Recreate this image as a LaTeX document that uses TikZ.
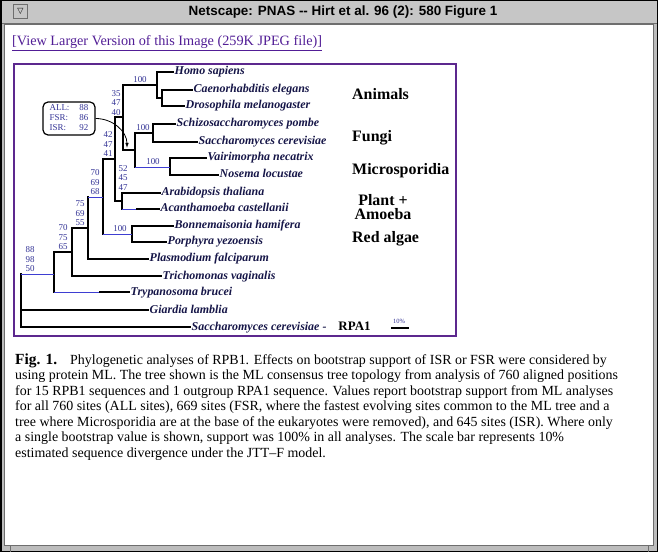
\documentclass[tikz,border=0pt]{standalone}
\usepackage{fontspec}
\setmainfont{Liberation Serif}
\newfontfamily\titlefont{Liberation Sans}
\newfontfamily\symfont{DejaVu Sans}
\usetikzlibrary{arrows.meta}
\definecolor{winframe}{RGB}{188,188,188}
\definecolor{winbar}{RGB}{198,198,198}
\definecolor{winshade}{RGB}{110,110,110}
\definecolor{linkcol}{RGB}{82,30,150}
\definecolor{figframe}{RGB}{92,40,142}
\definecolor{bscol}{RGB}{52,52,150}
\definecolor{spcol}{RGB}{22,22,72}
\definecolor{thinbr}{RGB}{62,62,210}
\tikzset{
  br/.style  ={draw=black, line width=1.6bp, line cap=rect},
  brt/.style ={draw=thinbr, line width=0.9bp},
  tip/.style ={anchor=west, inner sep=1.5bp, text=spcol, text height=8.5bp, text depth=2.5bp,
               font=\fontsize{12}{14}\selectfont\bfseries\itshape},
  bs/.style  ={anchor=south, inner sep=0.5bp, align=center, text=bscol,
               font=\fontsize{9}{9.5}\selectfont},
  grp/.style ={anchor=base west, inner sep=0pt, font=\fontsize{16}{15}\selectfont\bfseries},
  capl/.style={anchor=base west, inner sep=0pt, font=\fontsize{14}{15}\selectfont},
  keybox/.style={draw=black, line width=1.2bp, rounded corners=5bp, minimum width=52bp,
               minimum height=33bp, inner sep=0pt, text=bscol, font=\fontsize{9}{10}\selectfont},
  ptr/.style ={draw=black, line width=0.8bp, -{Latex[length=5bp,width=3.5bp]}},
}

\begin{document}
\begin{tikzpicture}[x=1bp,y=-1bp]
  \useasboundingbox (0,0) rectangle (658,552);
  \fill[winframe] (0,0) rectangle (658,552);
  \fill[winbar] (0,0) rectangle (658,23);
  \draw[winshade, line width=1bp] (0,23.5) -- (658,23.5);
  \fill[white] (4,24) rectangle (653,545);
  \draw[winshade, line width=0.8bp] (4,24) rectangle (653,545);
  \draw[black, line width=1.5bp] (0.75,0.75) rectangle (657.25,551.25);
  \draw[winshade, line width=0.8bp] (10,545) -- (10,552) (648,545) -- (648,552);
  \node[draw=winshade, fill=winbar, line width=0.8bp, minimum width=14bp, minimum height=14bp,
        inner sep=0pt, font=\symfont\fontsize{8}{8}\selectfont] (wbtn) at (20.5,11.5) {▽};
  \node[anchor=base, inner sep=0pt, font=\titlefont\bfseries\fontsize{13.5}{14}\selectfont] (wtitle)
        at (343,16) {Netscape: PNAS -{}- Hirt et al. 96 (2): 580 Figure 1};
  \node[anchor=base west, inner sep=0pt, text=linkcol, font=\fontsize{14.3}{15}\selectfont] (vlink)
        at (12,45.5) {\underline{[View Larger Version of this Image (259K JPEG file)]}};

  \draw[figframe, line width=2bp] (14,64) rectangle (456,336);

  \node[tip] (tHs) at (173,72)  {Homo sapiens};
  \node[tip] (tCe) at (192,90)  {Caenorhabditis elegans};
  \node[tip] (tDm) at (184,106) {Drosophila melanogaster};
  \node[tip] (tSp) at (175,124) {Schizosaccharomyces pombe};
  \node[tip] (tSc) at (197,142) {Saccharomyces cerevisiae};
  \node[tip] (tVn) at (206,158) {Vairimorpha necatrix};
  \node[tip] (tNl) at (218,175) {Nosema locustae};
  \node[tip] (tAt) at (160,193) {Arabidopsis thaliana};
  \node[tip] (tAc) at (159,209) {Acanthamoeba castellanii};
  \node[tip] (tBh) at (173,226) {Bonnemaisonia hamifera};
  \node[tip] (tPy) at (166,242) {Porphyra yezoensis};
  \node[tip] (tPf) at (148,259) {Plasmodium falciparum};
  \node[tip] (tTv) at (161,276) {Trichomonas vaginalis};
  \node[tip] (tTb) at (129,292) {Trypanosoma brucei};
  \node[tip] (tGl) at (148,310) {Giardia lamblia};
  \node[tip] (tRp) at (190,327) {Saccharomyces cerevisiae -\hspace{12bp}{\upshape\color{black}\fontsize{13}{14}\selectfont RPA1}};

  \coordinate (nCD)  at (162,98);
  \coordinate (nAn)  at (157,85);
  \coordinate (nFu)  at (153,133);
  \coordinate (nMi)  at (170,167);
  \coordinate (nFM)  at (135,150);
  \coordinate (nAFM) at (123,117);
  \coordinate (nPA)  at (122,201);
  \coordinate (nX)   at (115,159);
  \coordinate (nRA)  at (132,234);
  \coordinate (nY)   at (103,197);
  \coordinate (nZ)   at (88,228);
  \coordinate (nW)   at (72,252);
  \coordinate (nV)   at (54,274);
  \coordinate (nR)   at (21,300);
  \coordinate (acmid) at (137,209);
  \coordinate (tbmid) at (100,292);

  \draw[br] (nCD) |- (tCe.west);
  \draw[br] (nCD) |- (tDm.west);
  \draw[br] (nAn) |- (tHs.west);
  \draw[br] (nAn) |- (nCD);
  \draw[br] (nFu) |- (tSp.west);
  \draw[br] (nFu) |- (tSc.west);
  \draw[br] (nMi) |- (tVn.west);
  \draw[br] (nMi) |- (tNl.west);
  \draw[br] (nFM) |- (nFu);
  \draw[br] (nFM) -- (nFM |- nMi);
  \draw[brt] (nFM |- nMi) -- (nMi);
  \draw[br] (nAFM) |- (nAn);
  \draw[br] (nAFM) |- (nFM);
  \draw[br] (nPA) |- (tAt.west);
  \draw[br] (nPA) -- (nPA |- tAc.west);
  \draw[brt] (nPA |- tAc.west) -- (acmid);
  \draw[br] (acmid) -- (tAc.west);
  \draw[br] (nX) |- (nAFM);
  \draw[br] (nX) |- (nPA);
  \draw[br] (nRA) |- (tBh.west);
  \draw[br] (nRA) |- (tPy.west);
  \draw[br] (nY) |- (nX);
  \draw[br] (nY) -- (nY |- nRA);
  \draw[brt] (nY |- nRA) -- (nRA);
  \draw[br] (nZ) -- (nZ |- nY);
  \draw[brt] (nZ |- nY) -- (nY);
  \draw[br] (nZ) |- (tPf.west);
  \draw[br] (nW) |- (nZ);
  \draw[br] (nW) |- (tTv.west);
  \draw[br] (nV) |- (nW);
  \draw[br] (nV) -- (nV |- tTb.west);
  \draw[brt] (nV |- tTb.west) -- (tbmid);
  \draw[br] (tbmid) -- (tTb.west);
  \draw[br] (nR) -- (nR |- nV);
  \draw[brt] (nR |- nV) -- (nV);
  \draw[br] (nR) |- (tGl.west);
  \draw[br] (nR) |- (tRp.west);

  \node[bs] (bAn)  at (140,83.5)  {100};
  \node[bs] (bAFM) at (116,116)   {35\\47\\40};
  \node[bs] (bFu)  at (143,131.5) {100};
  \node[bs] (bMi)  at (153,165.5) {100};
  \node[bs] (bX)   at (108,157.5) {42\\47\\41};
  \node[bs] (bPA)  at (123,191)   {52\\45\\47};
  \node[bs] (bY)   at (95,195.5)  {70\\69\\68};
  \node[bs] (bRA)  at (120,232.5) {100};
  \node[bs] (bZ)   at (80,226.5)  {75\\69\\55};
  \node[bs] (bW)   at (63,250.5)  {70\\75\\65};
  \node[bs] (bV)   at (30,272.5)  {88\\98\\50};

  \node[keybox] (key) at (69,118.5)
    {\begin{tabular}{@{}l@{\hspace{10bp}}l@{}}ALL: & 88\\ FSR: & 86\\ ISR: & 92\end{tabular}};
  \coordinate (arwtip) at (127,148);
  \draw[ptr] (key.east) to[out=0,in=90] (arwtip);

  \node[grp] (gAn) at (352,100) {Animals};
  \node[grp] (gFu) at (352,142) {Fungi};
  \node[grp] (gMi) at (352,175) {Microsporidia};
  \node[grp, anchor=base, align=center] (gPA) at (383,220) {Plant +\\Amoeba};
  \node[grp] (gRA) at (352,243) {Red algae};

  \coordinate (sbl) at (391,328);
  \coordinate (sbr) at (409,328);
  \draw[br, line cap=butt] (sbl) -- (sbr);
  \node[anchor=base, inner sep=0pt, text=bscol, font=\fontsize{6.5}{7}\selectfont] (sbtxt) at (399,323) {10\%};

  \node[capl] (cap1) at (15,364)   {{\fontsize{15.5}{15}\selectfont\textbf{Fig. 1.}}\hspace{13bp}Phylogenetic analyses of RPB1. Effects on bootstrap support of ISR or FSR were considered by};
  \node[capl] (cap2) at (15,379.5) {using protein ML. The tree shown is the ML consensus tree topology from analysis of 760 aligned positions};
  \node[capl] (cap3) at (15,395)   {for 15 RPB1 sequences and 1 outgroup RPA1 sequence. Values report bootstrap support from ML analyses};
  \node[capl] (cap4) at (15,410.5) {for all 760 sites (ALL sites), 669 sites (FSR, where the fastest evolving sites common to the ML tree and a};
  \node[capl] (cap5) at (15,426)   {tree where Microsporidia are at the base of the eukaryotes were removed), and 645 sites (ISR). Where only};
  \node[capl] (cap6) at (15,441.5) {a single bootstrap value is shown, support was 100\% in all analyses. The scale bar represents 10\%};
  \node[capl] (cap7) at (15,457)   {estimated sequence divergence under the JTT--F model.};
\end{tikzpicture}
\end{document}
